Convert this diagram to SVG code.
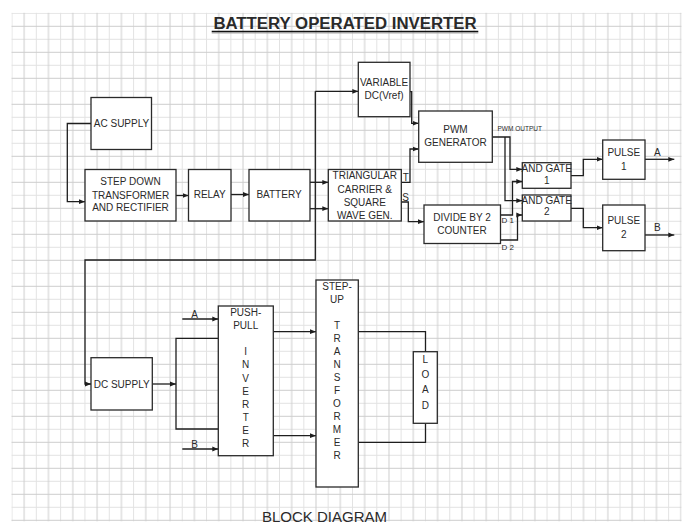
<svg xmlns="http://www.w3.org/2000/svg" width="689" height="526" viewBox="0 0 689 526">
<style>
.box{fill:#fff;stroke:#2a2a2a;stroke-width:1.3}
.t{font-family:"Liberation Sans",Arial,sans-serif;font-size:10px;fill:#2a2a2a;text-anchor:middle}
.s{font-family:"Liberation Sans",Arial,sans-serif;fill:#2a2a2a}
.c{fill:none;stroke:#1e1e1e;stroke-width:1.3}
.a{marker-end:url(#arr)}
</style>
<defs>
<pattern id="grid" x="11.5" y="12.8" width="24.32" height="26" patternUnits="userSpaceOnUse">
<path d="M0.5,0 V26 M0,0.5 H24.32" stroke="#e2e2e2" stroke-width="1" fill="none"/>
<path d="M12.66,0 V26 M0,13.5 H24.32" stroke="#cdcdcd" stroke-width="1" fill="none"/>
</pattern>
<marker id="arr" markerUnits="userSpaceOnUse" markerWidth="6" markerHeight="6" refX="6" refY="3" orient="auto">
<path d="M0,0.6 L6,3 L0,5.4 z" fill="#1e1e1e"/>
</marker>
</defs>
<rect x="0" y="0" width="689" height="526" fill="#fff"/>
<rect x="11.5" y="12.8" width="670" height="508.5" fill="url(#grid)"/>

<g id="title">
<text x="345" y="29" class="s" font-size="16.8" font-weight="bold" text-anchor="middle" fill="#111">BATTERY OPERATED INVERTER</text>
<line x1="211.7" y1="33" x2="478.3" y2="33" stroke="#aaa" stroke-width="1.2"/>
<line x1="211.7" y1="31.6" x2="478.3" y2="31.6" stroke="#111" stroke-width="1.5"/>
</g>

<g id="connectors">
<path class="c a" d="M91,123.5 H67.3 V201.7 H85"/>
<path class="c a" d="M176,195.5 H188.5"/>
<path class="c a" d="M231,194.5 H249"/>
<path class="c a" d="M310,182.3 H328.3"/>
<path class="c a" d="M310,208.7 H328.3"/>
<path class="c a" d="M315.3,91.3 H358.3"/>
<path class="c a" d="M315.3,91.3 V260 H85 V384 H91"/>
<path class="c a" d="M401.3,182.3 H410 V149 H418.7"/>
<path class="c a" d="M401.3,202 H408.3 V221.7 H424"/>
<path class="c a" d="M410,91.7 H411.7 V123.3 H418.7"/>
<path class="c a" d="M492.3,137 H510 V169.3 H522.3"/>
<path class="c a" d="M505,137 V200.7 H522.3"/>
<path class="c a" d="M500.5,215 H512.5 V181.5 H522.3"/>
<path class="c a" d="M500.5,240 H517.5 V215 H522.3"/>
<path class="c a" d="M571,175.7 H583.3 V159.3 H602.7"/>
<path class="c a" d="M571,208.3 H583.3 V227.7 H602.7"/>
<path class="c a" d="M645,159.3 H674.3"/>
<path class="c a" d="M645,235 H674.3"/>
<path class="c a" d="M152.3,384 H176"/>
<path class="c" d="M218.3,338.3 H176 V429 H218.3"/>
<path class="c a" d="M182.3,319 H218.3"/>
<path class="c a" d="M182.3,449 H218.3"/>
<path class="c a" d="M273.3,331.7 H316"/>
<path class="c a" d="M273.3,435.7 H316"/>
<path class="c" d="M358.3,331.7 H425.5 V351.7"/>
<path class="c" d="M358.3,442.3 H425.5 V423.3"/>
<text x="497.5" y="130.5" class="s" font-size="6.5">PWM OUTPUT</text>
<text x="501.5" y="222.8" class="s" font-size="8">D 1</text>
<text x="501.5" y="249.8" class="s" font-size="8">D 2</text>
<text x="657.3" y="155.7" class="t" font-size="11.5">A</text>
<text x="657.3" y="231" class="t" font-size="11.5">B</text>
<text x="194.7" y="317.7" class="t" font-size="11.5">A</text>
<text x="194.7" y="447.7" class="t" font-size="11.5">B</text>
<text x="405.7" y="181" class="t" font-size="8">T</text>
<text x="405.7" y="201" class="t" font-size="8">S</text>
<text x="304" y="184.5" class="t" font-size="7">+</text>
<text x="304" y="213" class="t" font-size="7">-</text>
</g>

<g id="ac_supply">
<rect class="box" x="91" y="97.5" width="60.5" height="52"/>
<text class="t" x="121.5" y="127">AC SUPPLY</text>
</g>
<g id="step_down">
<rect class="box" x="85" y="169.5" width="91" height="51.5"/>
<text class="t" x="130.5" y="185.3">STEP DOWN</text>
<text class="t" x="130.5" y="198.6">TRANSFORMER</text>
<text class="t" x="130.5" y="211">AND RECTIFIER</text>
</g>
<g id="relay">
<rect class="box" x="188.5" y="169.5" width="42.5" height="51.5"/>
<text class="t" x="209.7" y="198.3">RELAY</text>
</g>
<g id="battery">
<rect class="box" x="249" y="169.5" width="61" height="51.5"/>
<text class="t" x="279" y="198.3">BATTERY</text>
</g>
<g id="triangular">
<rect class="box" x="328.3" y="169.5" width="73" height="51.5"/>
<text class="t" x="364.8" y="179.3">TRIANGULAR</text>
<text class="t" x="364.8" y="192.6">CARRIER &amp;</text>
<text class="t" x="364.8" y="205.9">SQUARE</text>
<text class="t" x="364.8" y="218.9">WAVE GEN.</text>
</g>
<g id="variable_dc">
<rect class="box" x="358.3" y="62.3" width="51.7" height="54.4"/>
<text class="t" x="384" y="85.9">VARIABLE</text>
<text class="t" x="384" y="98.9">DC(Vref)</text>
</g>
<g id="pwm_generator">
<rect class="box" x="418.7" y="111" width="73.6" height="51.3"/>
<text class="t" x="455.5" y="133">PWM</text>
<text class="t" x="455.5" y="146">GENERATOR</text>
</g>
<g id="divide_counter">
<rect class="box" x="424" y="205" width="76.5" height="38.5"/>
<text class="t" x="462" y="221.3">DIVIDE BY 2</text>
<text class="t" x="462" y="233.8">COUNTER</text>
</g>
<g id="and_gate_1">
<rect class="box" x="522.3" y="162.7" width="48.7" height="25.6"/>
<text class="t" x="546.7" y="172.3" font-size="8">AND GATE</text>
<text class="t" x="546.7" y="184" font-size="8">1</text>
</g>
<g id="and_gate_2">
<rect class="box" x="522.3" y="195" width="48.7" height="26"/>
<text class="t" x="546.7" y="203.7" font-size="8">AND GATE</text>
<text class="t" x="546.7" y="214.7" font-size="8">2</text>
</g>
<g id="pulse_1">
<rect class="box" x="602.7" y="140" width="42.3" height="39.3"/>
<text class="t" x="623.8" y="156">PULSE</text>
<text class="t" x="623.8" y="169.6">1</text>
</g>
<g id="pulse_2">
<rect class="box" x="602.7" y="205" width="42.3" height="45.7"/>
<text class="t" x="623.8" y="223.6">PULSE</text>
<text class="t" x="623.8" y="237.6">2</text>
</g>
<g id="dc_supply">
<rect class="box" x="91" y="357.7" width="61.3" height="52.3"/>
<text class="t" x="121.7" y="387.6">DC SUPPLY</text>
</g>
<g id="push_pull_inverter">
<rect class="box" x="218.3" y="306" width="55" height="149.7"/>
<text class="t" x="245.7" y="316.3">PUSH-</text>
<text class="t" x="245.7" y="329.3">PULL</text>
<text class="t" x="245.7" y="355.3">I</text>
<text class="t" x="245.7" y="368.4">N</text>
<text class="t" x="245.7" y="381.5">V</text>
<text class="t" x="245.7" y="394.6">E</text>
<text class="t" x="245.7" y="407.7">R</text>
<text class="t" x="245.7" y="420.8">T</text>
<text class="t" x="245.7" y="433.9">E</text>
<text class="t" x="245.7" y="447">R</text>
</g>
<g id="step_up_transformer">
<rect class="box" x="316" y="280" width="42.3" height="207"/>
<text class="t" x="337" y="290.3">STEP-</text>
<text class="t" x="337" y="303">UP</text>
<text class="t" x="337" y="328.6">T</text>
<text class="t" x="337" y="341.6">R</text>
<text class="t" x="337" y="354.6">A</text>
<text class="t" x="337" y="367.6">N</text>
<text class="t" x="337" y="380.6">S</text>
<text class="t" x="337" y="393.6">F</text>
<text class="t" x="337" y="406.6">O</text>
<text class="t" x="337" y="419.6">R</text>
<text class="t" x="337" y="432.6">M</text>
<text class="t" x="337" y="445.6">E</text>
<text class="t" x="337" y="458.6">R</text>
</g>
<g id="load">
<rect class="box" x="413.3" y="351.7" width="24" height="71.6"/>
<text class="t" x="425.3" y="363" font-size="10.5">L</text>
<text class="t" x="425.3" y="378" font-size="10.5">O</text>
<text class="t" x="425.3" y="393" font-size="10.5">A</text>
<text class="t" x="425.3" y="408.6" font-size="10.5">D</text>
</g>
<g id="caption">
<text class="s" x="324.5" y="521.5" font-size="15" text-anchor="middle" fill="#222">BLOCK DIAGRAM</text>
</g>
</svg>
